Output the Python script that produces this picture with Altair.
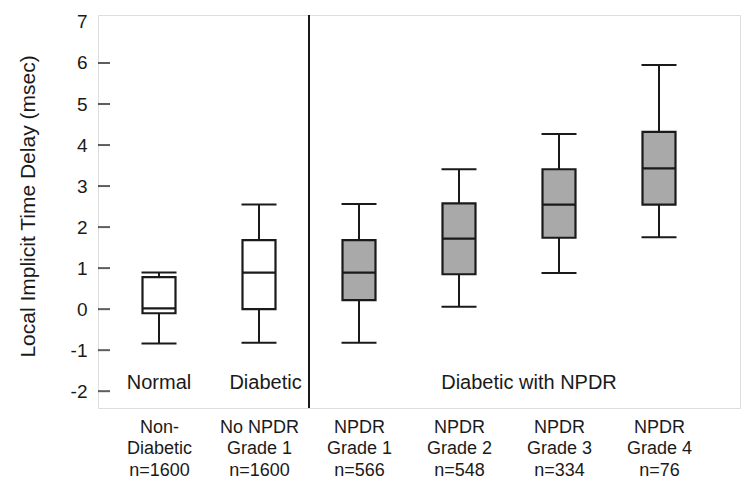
import json
import altair as alt
import pandas as pd

# ---- data ----
positions = [0, 1, 2, 3, 4, 5]
x_labels = [
    "Non-|Diabetic|n=1600",
    "No NPDR|Grade 1|n=1600",
    "NPDR|Grade 1|n=566",
    "NPDR|Grade 2|n=548",
    "NPDR|Grade 3|n=334",
    "NPDR|Grade 4|n=76",
]
groups = ["open", "open", "filled", "filled", "filled", "filled"]
mins = [-0.84, -0.82, -0.82, 0.06, 0.88, 1.75]
q1s = [-0.10, 0.00, 0.22, 0.85, 1.74, 2.55]
medians = [0.02, 0.89, 0.89, 1.72, 2.55, 3.43]
q3s = [0.78, 1.68, 1.68, 2.58, 3.41, 4.32]
maxs = [0.89, 2.55, 2.56, 3.41, 4.27, 5.95]

group_texts = ["Normal", "Diabetic", "Diabetic with NPDR"]
group_text_x = [0.0, 1.065, 3.7]
group_text_y = [-1.94, -1.94, -1.94]

separator_x = [1.5]
y_ticks = [-2, -1, 0, 1, 2, 3, 4, 5, 6, 7]
inner_ticks = [-2, -1, 0, 1, 2, 3, 4, 5, 6]

FONT = "Liberation Sans"
INK = "#1a1a1a"
W, H = 642, 393
X_MIN, X_MAX = -0.61, 5.81
TICK = 12

df = pd.DataFrame({
    "pos": positions, "grp": groups, "min": mins, "q1": q1s,
    "med": medians, "q3": q3s, "max": maxs,
})

xs = alt.Scale(domain=[X_MIN, X_MAX], nice=False, zero=False)
ys = alt.Scale(domain=[-2.41, 7.17], nice=False, zero=False)

label_expr = "split(" + json.dumps(x_labels) + "[datum.value], '|')"

base = alt.Chart(df)

x_axis = alt.Axis(
    values=positions, labelExpr=label_expr, title=None, domain=False,
    ticks=False, grid=False, labelFont=FONT, labelFontSize=18,
    labelColor=INK, labelPadding=10, labelLineHeight=21.5,
    labelBaseline="top", labelOverlap=False, labelFlush=False,
)
y_axis = alt.Axis(
    values=y_ticks, labelExpr="'' + datum.value",
    title="Local Implicit Time Delay (msec)", domain=False,
    ticks=False, grid=False, labelFont=FONT, labelFontSize=19,
    labelColor=INK, labelPadding=11, titleFont=FONT, titleFontSize=21,
    titleFontWeight="normal", titleColor=INK, titleAngle=-90,
    titleAlign="center", titleBaseline="middle", titleX=-70, titleY=191,
    labelFlush=False,
)

whisker = base.mark_rule(color=INK, strokeWidth=2).encode(
    x=alt.X("pos:Q", scale=xs, axis=x_axis),
    y=alt.Y("min:Q", scale=ys, axis=y_axis),
    y2="max:Q",
)

caps_lo = base.transform_calculate(
    a="datum.pos - 0.175", b="datum.pos + 0.175"
).mark_rule(color=INK, strokeWidth=2).encode(
    x=alt.X("a:Q", scale=xs), x2="b:Q", y=alt.Y("min:Q", scale=ys)
)
caps_hi = base.transform_calculate(
    a="datum.pos - 0.175", b="datum.pos + 0.175"
).mark_rule(color=INK, strokeWidth=2).encode(
    x=alt.X("a:Q", scale=xs), x2="b:Q", y=alt.Y("max:Q", scale=ys)
)

boxes = base.transform_calculate(
    a="datum.pos - 0.165", b="datum.pos + 0.165"
).mark_rect(stroke=INK, strokeWidth=2.2).encode(
    x=alt.X("a:Q", scale=xs), x2="b:Q",
    y=alt.Y("q1:Q", scale=ys), y2="q3:Q",
    fill=alt.Fill("grp:N", scale=alt.Scale(domain=["open", "filled"],
                                            range=["#ffffff", "#a9a9a9"]),
                  legend=None),
)

med = base.transform_calculate(
    a="datum.pos - 0.165", b="datum.pos + 0.165"
).mark_rule(color=INK, strokeWidth=2.2).encode(
    x=alt.X("a:Q", scale=xs), x2="b:Q", y=alt.Y("med:Q", scale=ys)
)

sep = alt.Chart(pd.DataFrame({"sx": separator_x})).mark_rule(
    color=INK, strokeWidth=2
).encode(x=alt.X("sx:Q", scale=xs), y=alt.value(0), y2=alt.value(H))

# inward tick marks on the left frame, one per integer value
ticks = alt.Chart(pd.DataFrame({"t": inner_ticks})).mark_tick(
    color=INK, thickness=2, size=TICK, orient="horizontal"
).encode(y=alt.Y("t:Q", scale=ys), x=alt.value(TICK / 2))

gtext = alt.Chart(pd.DataFrame({
    "label": group_texts, "gx": group_text_x, "gy": group_text_y
})).mark_text(font=FONT, fontSize=20, color=INK, align="center",
              baseline="alphabetic").encode(
    x=alt.X("gx:Q", scale=xs), y=alt.Y("gy:Q", scale=ys), text="label:N"
)

chart = alt.layer(
    whisker, caps_lo, caps_hi, boxes, med, sep, ticks, gtext
).properties(
    width=W, height=H,
    autosize=alt.AutoSizeParams(type="none"),
    padding={"left": 90, "top": 7, "right": 5, "bottom": 76},
).configure_view(stroke=INK, strokeWidth=2).configure(background="white")

chart.save("out.html", embed_options={"renderer": "svg", "actions": False})
